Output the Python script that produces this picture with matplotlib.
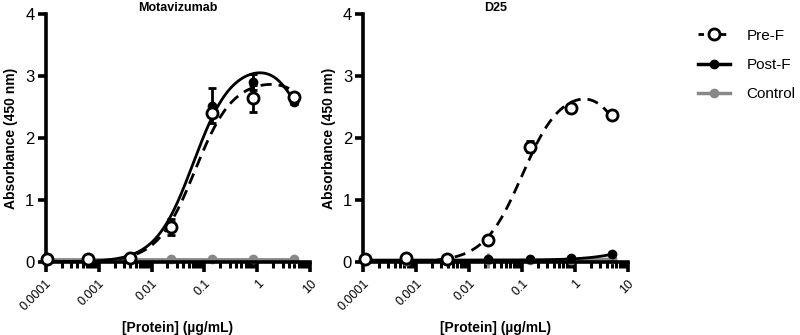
import matplotlib.pyplot as plt
import numpy as np
from matplotlib.ticker import LogLocator, NullFormatter, FixedLocator

plt.rcParams['font.family'] = ['Liberation Sans', 'DejaVu Sans']

# six-fold dilution series (ug/mL)
conc = [5.0, 0.833, 0.139, 0.0231, 0.00386, 0.000643, 0.000107]

# Motavizumab
mota_pre = [2.66, 2.64, 2.40, 0.57, 0.06, 0.05, 0.05]
mota_pre_err = [0.03, 0.22, 0.05, 0.13, 0.0, 0.0, 0.0]
mota_post = [2.58, 2.91, 2.52, 0.60, 0.04, 0.03, 0.03]
mota_post_err = [0.03, 0.13, 0.28, 0.05, 0.0, 0.0, 0.0]
mota_ctrl = [0.05, 0.05, 0.05, 0.05, 0.05, 0.05, 0.05]

# D25
d25_pre = [2.37, 2.49, 1.86, 0.35, 0.05, 0.07, 0.05]
d25_pre_err = [0.03, 0.03, 0.09, 0.02, 0.0, 0.0, 0.0]
d25_post = [0.13, 0.06, 0.05, 0.04, 0.03, 0.03, 0.03]
d25_ctrl = [0.05, 0.03, 0.03, 0.03, 0.02, 0.02, 0.02]
d25_ctrl_err = [0.0, 0.0, 0.0, 0.12, 0.0, 0.0, 0.0]

# bell-shaped fit parameters: plateau1, dip, plateau2, logEC50_1, nH1, logEC50_2, nH2
fit_mota_pre = [0.0, 2.95, 2.4, -1.18, 1.22, 0.85, 2.0]
fit_mota_post = [0.0, 3.2, 2.0, -1.21, 1.22, 0.7, 2.0]
fit_d25_pre = [0.0, 2.8, 1.8, -1.0, 1.2, 0.75, 2.0]
fit_d25_post = [0.03, 0.5, 0.5, 1.3, 1.0, 3.0, 1.0]


def bell(x, p):
    p1, dip, p2, ec1, h1, ec2, h2 = p
    lx = np.log10(x)
    s1 = (p1 - dip) / (1 + 10 ** ((lx - ec1) * h1))
    s2 = (p2 - dip) / (1 + 10 ** ((ec2 - lx) * h2))
    return dip + s1 + s2


def style_axis(ax, title, ylabel):
    ax.set_xscale('log')
    ax.set_xlim(1e-4, 10)
    ax.set_ylim(0, 4)
    for s in ['top', 'right']:
        ax.spines[s].set_visible(False)
    for s in ['left', 'bottom']:
        ax.spines[s].set_linewidth(2.6)
    ax.xaxis.set_major_locator(FixedLocator([1e-4, 1e-3, 1e-2, 1e-1, 1, 10]))
    ax.xaxis.set_minor_locator(LogLocator(base=10, subs=np.arange(2, 10), numticks=20))
    ax.xaxis.set_minor_formatter(NullFormatter())
    ax.set_xticklabels(['0.0001', '0.001', '0.01', '0.1', '1', '10'],
                       rotation=45, ha='right', rotation_mode='anchor', fontsize=9)
    ax.set_yticks([0, 1, 2, 3, 4])
    ax.tick_params(axis='y', labelsize=12, width=2.6, length=6, pad=2)
    ax.tick_params(axis='x', which='major', width=2.6, length=7, pad=4)
    ax.tick_params(axis='x', which='minor', width=2.2, length=4)
    ax.set_title(title, fontsize=9, fontweight='bold', pad=1)
    ax.set_ylabel(ylabel, fontsize=10, fontweight='bold', labelpad=5)
    ax.set_xlabel('[Protein] (\u00b5g/mL)', fontsize=10, fontweight='bold', labelpad=6)


def draw_series(ax, y, err, fit, kind):
    xs = np.logspace(np.log10(min(conc)), np.log10(max(conc)), 300)
    if kind == 'pre':
        if fit is not None:
            ax.plot(xs, bell(xs, fit), color='black', lw=2, ls=(0, (4, 2.5)), zorder=3)
        ax.errorbar(conc, y, yerr=err, fmt='o', mfc='white', mec='black', mew=2,
                    ms=8, ecolor='black', elinewidth=2, capsize=3, capthick=2,
                    zorder=5, clip_on=False)
    elif kind == 'post':
        if fit is not None:
            ax.plot(xs, bell(xs, fit), color='black', lw=2, zorder=3)
        ax.errorbar(conc, y, yerr=err, fmt='o', color='black', ms=6,
                    elinewidth=2, capsize=3, capthick=2, zorder=4, clip_on=False)
    else:
        ax.errorbar(conc, y, yerr=err, fmt='-o', color='#888888', ms=6, lw=2,
                    elinewidth=2, capsize=0, zorder=2, clip_on=False)


fig = plt.figure(figsize=(8, 3.35), dpi=100)
ax1 = fig.add_axes([0.057, 0.218, 0.331, 0.74])
ax2 = fig.add_axes([0.454, 0.218, 0.331, 0.74])

style_axis(ax1, 'Motavizumab', 'Absorbance (450 nm)')
draw_series(ax1, mota_ctrl, None, None, 'ctrl')
draw_series(ax1, mota_post, mota_post_err, fit_mota_post, 'post')
draw_series(ax1, mota_pre, mota_pre_err, fit_mota_pre, 'pre')

style_axis(ax2, 'D25', 'Absorbance (450 nm)')
draw_series(ax2, d25_ctrl, d25_ctrl_err, None, 'ctrl')
draw_series(ax2, d25_post, None, fit_d25_post, 'post')
draw_series(ax2, d25_pre, d25_pre_err, fit_d25_pre, 'pre')

h_pre, = ax2.plot([], [], color='black', lw=2, ls=(0, (2, 2)), marker='o',
                  mfc='white', mec='black', mew=2, ms=8)
h_post, = ax2.plot([], [], color='black', lw=2.5, marker='o', ms=6)
h_ctrl, = ax2.plot([], [], color='#888888', lw=2.5, marker='o', ms=6)
fig.legend([h_pre, h_post, h_ctrl], ['Pre-F', 'Post-F', 'Control'],
           loc='upper left', bbox_to_anchor=(0.855, 0.955), frameon=False,
           fontsize=11, handlelength=2.1, labelspacing=1.0, handletextpad=1.1)

fig.savefig('out.png', dpi=100)
